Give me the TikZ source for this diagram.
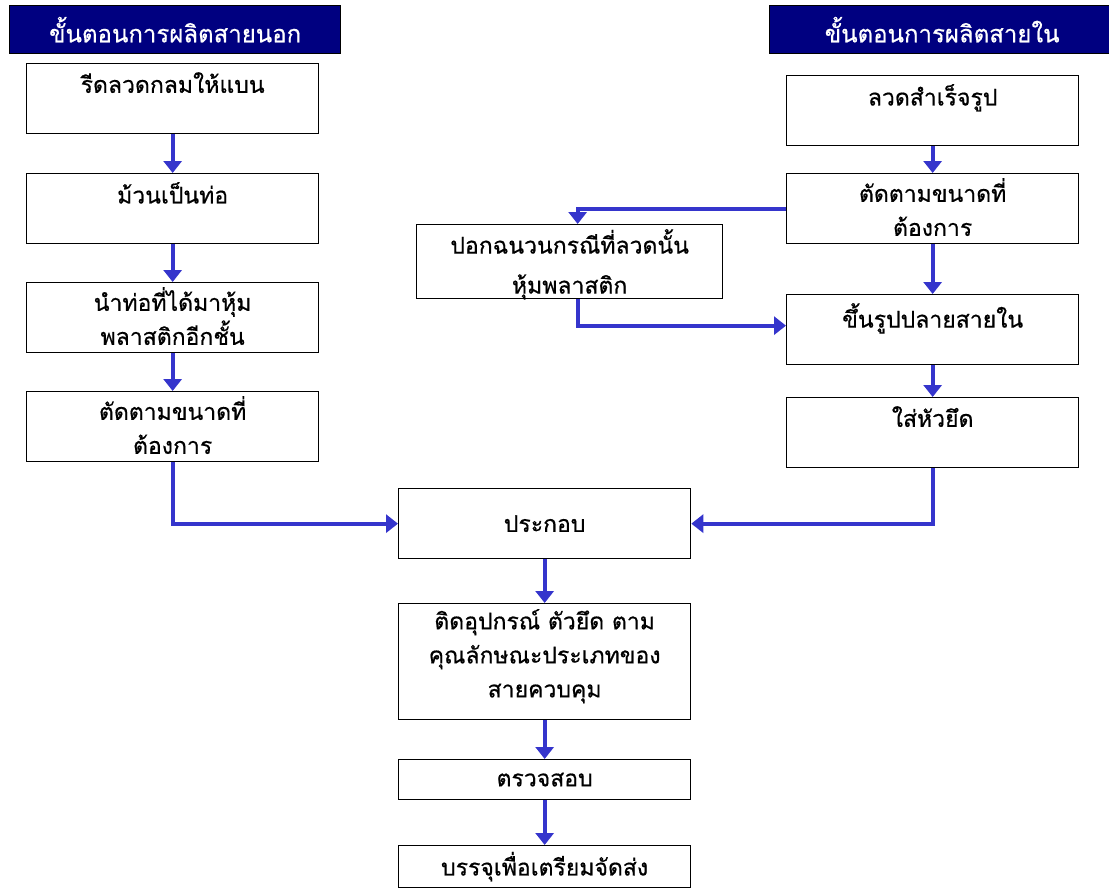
\documentclass[tikz,border=0pt]{standalone}
\usepackage{fontspec}
\newfontfamily\thai[Script=Thai, FakeBold=0.6]{Loma}
\usetikzlibrary{arrows.meta}
\definecolor{flow}{HTML}{3535CC}
\definecolor{navy}{HTML}{000080}
\tikzset{
  stepbox/.style={draw=black, line width=1.3pt, fill=white, minimum width=292pt, minimum height=70pt, anchor=north west, inner sep=0pt},
  head/.style={draw=black, line width=1.3pt, fill=navy, text=white, anchor=north west, inner sep=0pt, font=\thai\fontsize{24}{28}\selectfont},
  txt/.style={anchor=north, align=center, inner sep=0pt, font=\thai\fontsize{23}{34}\selectfont},
  flowarrow/.style={draw=flow, line width=4pt, -{Triangle[width=18pt,length=12pt]}},
}
\begin{document}
\begin{tikzpicture}[x=1pt,y=-1pt]
\useasboundingbox (0,0) rectangle (1109,891);
% headers
\node[head, minimum width=331pt, minimum height=48pt] (hl) at (9,5) {ขั้นตอนการผลิตสายนอก};
\node[head, minimum width=345pt, minimum height=48pt] (hr) at (769,5) {ขั้นตอนการผลิตสายใน};
% left column
\node[stepbox] (l1) at (26,63) {};
\node[stepbox] (l2) at (26,173) {};
\node[stepbox] (l3) at (26,282) {};
\node[stepbox] (l4) at (26,391) {};
\node[txt] (tl1) at ([yshift=-9pt]l1.north) {รีดลวดกลมให้แบน};
\node[txt] (tl2) at ([yshift=-9pt]l2.north) {ม้วนเป็นท่อ};
\node[txt] (tl3) at ([yshift=-5pt]l3.north) {นำท่อที่ได้มาหุ้ม\\พลาสติกอีกชั้น};
\node[txt] (tl4) at ([yshift=-5pt]l4.north) {ตัดตามขนาดที่\\ต้องการ};
% right column
\node[stepbox] (r1) at (786,75) {};
\node[stepbox] (r2) at (786,173) {};
\node[stepbox] (r3) at (786,294) {};
\node[stepbox] (r4) at (786,397) {};
\node[txt] (tr1) at ([yshift=-9pt]r1.north) {ลวดสำเร็จรูป};
\node[txt] (tr2) at ([yshift=-5pt]r2.north) {ตัดตามขนาดที่\\ต้องการ};
\node[txt] (tr3) at ([yshift=-9pt]r3.north) {ขึ้นรูปปลายสายใน};
\node[txt] (tr4) at ([yshift=-9pt]r4.north) {ใส่หัวยึด};
% middle branch
\node[stepbox, minimum width=306pt, minimum height=74pt] (m) at (416,224) {};
\node[txt, font=\thai\fontsize{23}{40}\selectfont] (tm) at ([yshift=-5pt]m.north) {ปอกฉนวนกรณีที่ลวดนั้น\\หุ้มพลาสติก};
% bottom chain
\node[stepbox] (p) at (398,488) {};
\node[txt, anchor=center] (tp) at (p.center) {ประกอบ};
\node[stepbox, minimum height=116pt] (d) at (398,603) {};
\node[txt] (td) at ([yshift=-6pt]d.north) {ติดอุปกรณ์ ตัวยึด ตาม\\คุณลักษณะประเภทของ\\สายควบคุม};
\node[stepbox, minimum height=40pt] (t) at (398,759) {};
\node[txt, anchor=center] (tt) at (t.center) {ตรวจสอบ};
\node[stepbox, minimum height=42pt] (f) at (398,845) {};
\node[txt, anchor=center] (tf) at (f.center) {บรรจุเพื่อเตรียมจัดส่ง};
% connectors
\draw[flowarrow] (l1.south) -- (l2.north);
\draw[flowarrow] (l2.south) -- (l3.north);
\draw[flowarrow] (l3.south) -- (l4.north);
\draw[flowarrow] (l4.south) |- (p.west);
\draw[flowarrow] (r1.south) -- (r2.north);
\draw[flowarrow] (r2.south) -- (r3.north);
\draw[flowarrow] (r3.south) -- (r4.north);
\draw[flowarrow] (r4.south) |- (p.east);
\draw[flowarrow] (r2.west) -| ([xshift=8pt]m.north);
\draw[flowarrow] ([xshift=8pt]m.south) |- ([yshift=4pt]r3.west);
\draw[flowarrow] (p.south) -- (d.north);
\draw[flowarrow] (d.south) -- (t.north);
\draw[flowarrow] (t.south) -- (f.north);
\end{tikzpicture}
\end{document}
